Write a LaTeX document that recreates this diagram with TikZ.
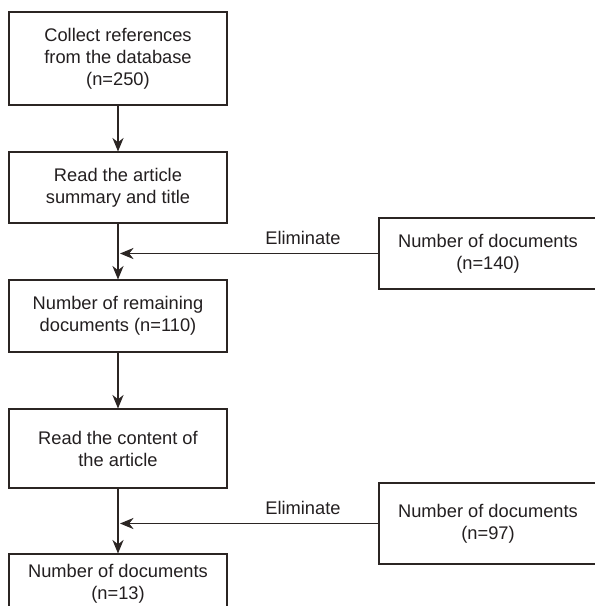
\documentclass[tikz,border=0pt]{standalone}
\usepackage{fontspec}
\setmainfont{Liberation Sans}
\usepackage{tikz}
\usetikzlibrary{arrows.meta, positioning, calc}
\usepackage{xcolor}
\definecolor{FlowLine}{HTML}{2B2523}
\definecolor{FlowText}{HTML}{231F20}
\tikzset{
    % Box styles - plain rectangles
    stagebox/.style={
        rectangle,
        draw=FlowLine,
        fill=white,
        line width=0.75pt,
        minimum width=5.45cm,
        align=center,
        text=FlowText,
        font=\fontsize{13}{15.6}\selectfont
    },
    % Arrow styles
    arrow/.style={
        -{Stealth[length=3.4mm, width=2.8mm, inset=1.1mm]},
        line width=0.75pt,
        draw=FlowLine
    },
    elimlabel/.style={
        text=FlowText,
        font=\fontsize{13}{15.6}\selectfont
    }
}
\begin{document}
\begin{tikzpicture}
    \clip (0,0) rectangle (14.875,-15.15);
    \useasboundingbox (0,0) rectangle (14.875,-15.15);

    \node[stagebox, minimum height=2.325cm] (collect) at (2.95,-1.4625) {Collect references\\from the database\\(n=250)};
    \node[stagebox, minimum height=1.775cm] (summary) at (2.95,-4.6875) {Read the article\\summary and title};
    \node[stagebox, minimum height=1.8cm] (remain) at (2.95,-7.9) {Number of remaining\\documents (n=110)};
    \node[stagebox, minimum height=1.975cm] (content) at (2.95,-11.2125) {Read the content of\\the article};
    \node[stagebox, minimum height=1.5cm] (final) at (2.95,-14.6) {Number of documents\\(n=13)};

    \node[stagebox, minimum height=1.775cm] (drop1) at (12.2,-6.3375) {Number of documents\\(n=140)};
    \node[stagebox, minimum height=2.025cm] (drop2) at (12.2,-13.0875) {Number of documents\\(n=97)};

    \coordinate (join1) at (summary.south |- drop1.west);
    \coordinate (join2) at (content.south |- drop2.west);

    \draw[arrow] (collect) -- (summary);
    \draw[arrow] (summary) -- (remain);
    \draw[arrow] (remain) -- (content);
    \draw[arrow] (content) -- (final);

    \draw[arrow, shorten >=0.05cm] (drop1.west) -- node[elimlabel, pos=0.29, above=0.08cm] (elim1) {Eliminate} (join1);
    \draw[arrow, shorten >=0.05cm] (drop2.west) -- node[elimlabel, pos=0.29, above=0.08cm] (elim2) {Eliminate} (join2);
\end{tikzpicture}
\end{document}
